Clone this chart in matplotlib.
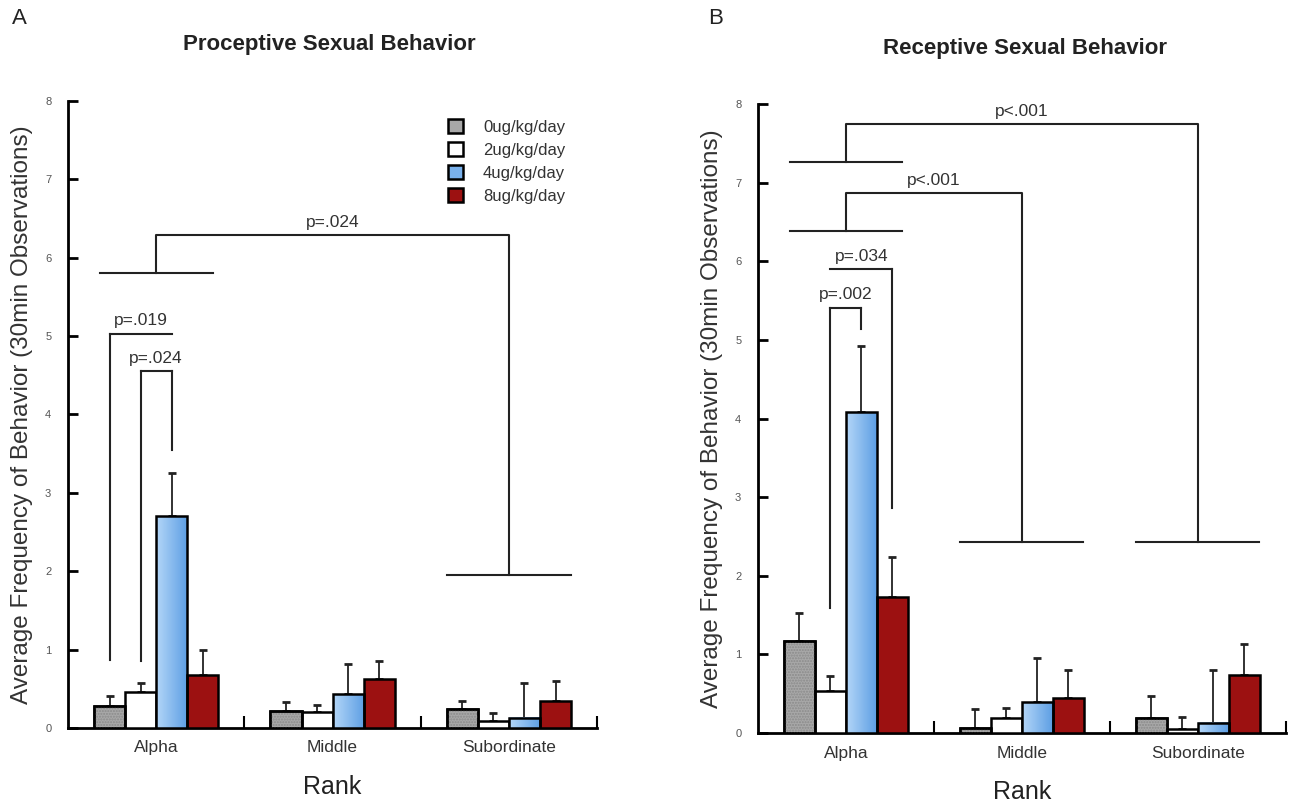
"""Proceptive / receptive sexual behavior by rank and dose, two-panel bar chart."""

import matplotlib

matplotlib.use("Agg")
import matplotlib.pyplot as plt
import numpy as np
from matplotlib.colors import LinearSegmentedColormap
from matplotlib.patches import Patch

plt.rcParams["font.family"] = ["Liberation Sans", "DejaVu Sans"]

ranks = ["Alpha", "Middle", "Subordinate"]
doses = ["0ug/kg/day", "2ug/kg/day", "4ug/kg/day", "8ug/kg/day"]

# panel A: proceptive, mean per rank (Alpha, Middle, Subordinate) and SEM
pro_0 = [0.28, 0.22, 0.24]
pro_2 = [0.455, 0.20, 0.09]
pro_4 = [2.70, 0.43, 0.13]
pro_8 = [0.67, 0.63, 0.35]
pro_0_sem = [0.13, 0.11, 0.11]
pro_2_sem = [0.115, 0.09, 0.10]
pro_4_sem = [0.55, 0.38, 0.44]
pro_8_sem = [0.33, 0.23, 0.25]

# panel B: receptive
rec_0 = [1.165, 0.064, 0.19]
rec_2 = [0.54, 0.19, 0.055]
rec_4 = [4.08, 0.39, 0.13]
rec_8 = [1.73, 0.45, 0.74]
rec_0_sem = [0.365, 0.246, 0.28]
rec_2_sem = [0.18, 0.13, 0.145]
rec_4_sem = [0.85, 0.57, 0.67]
rec_8_sem = [0.51, 0.35, 0.39]

# dose comparisons within Alpha: label, dose a, dose b, bracket top, leg end a, leg end b
pro_dose_tests = [("p=.019", 0, 2, 5.03, 0.87, None), ("p=.024", 1, 2, 4.55, 0.85, 3.55)]
rec_dose_tests = [("p=.002", 1, 2, 5.41, 1.59, 5.14), ("p=.034", 1, 3, 5.90, None, 2.86)]

# rank comparisons: label, rank a, rank b, T level a, bracket top, T level b
pro_rank_tests = [("p=.024", 0, 2, 5.80, 6.29, 1.95)]
rec_rank_tests = [("p<.001", 0, 1, 6.39, 6.87, 2.43), ("p<.001", 0, 2, 7.26, 7.75, 2.43)]

BAR_W = 0.176
FILL = ["#a8a8a8", "#ffffff", None, "#9c1111"]
BLUE = LinearSegmentedColormap.from_list("bar_blue", ["#b3d6f8", "#5e9fe4"])
LINE = "#222222"


def _bar_x(rank, dose):
    return rank + (dose - 1.5) * BAR_W


def _draw_bars(ax, means, sems):
    x = np.arange(len(ranks))
    for d, (vals, errs) in enumerate(zip(means, sems)):
        pos = x + (d - 1.5) * BAR_W
        ax.errorbar(pos, vals, yerr=[np.zeros(len(vals)), errs], fmt="none",
                    ecolor=LINE, elinewidth=1.3, capsize=3, capthick=2, zorder=2)
        if FILL[d] is None:
            grad = np.linspace(0, 1, 32).reshape(1, -1)
            for px, v in zip(pos, vals):
                ax.imshow(grad, cmap=BLUE, aspect="auto", zorder=3,
                          extent=[px - BAR_W / 2, px + BAR_W / 2, 0, v])
            ax.bar(pos, vals, BAR_W, color="none", edgecolor="black", linewidth=1.8, zorder=4)
        else:
            ax.bar(pos, vals, BAR_W, color=FILL[d], edgecolor="black", linewidth=1.8, zorder=3)
            if d == 0:
                ax.bar(pos, vals, BAR_W, color="none", edgecolor="#8a8a8a",
                       hatch="......", linewidth=0, zorder=3)
                ax.bar(pos, vals, BAR_W, color="none", edgecolor="black", linewidth=1.8, zorder=4)


def _dose_brackets(ax, tests):
    for label, a, b, top, end_a, end_b in tests:
        xa, xb = _bar_x(0, a), _bar_x(0, b)
        ax.plot([xa, xb], [top, top], color=LINE, lw=1.5)
        if end_a is not None:
            ax.plot([xa, xa], [end_a, top], color=LINE, lw=1.5)
        if end_b is not None:
            ax.plot([xb, xb], [end_b, top], color=LINE, lw=1.5)
        ax.text((xa + xb) / 2, top + 0.07, label, ha="center", va="bottom",
                fontsize=12.5, color="#333")


def _rank_brackets(ax, tests, half=0.32):
    for label, a, b, low_a, top, low_b in tests:
        ax.plot([a - half, a + half], [low_a, low_a], color=LINE, lw=1.5)
        ax.plot([b - half - 0.03, b + half + 0.03], [low_b, low_b], color=LINE, lw=1.5)
        ax.plot([a, a, b, b], [low_a, top, top, low_b], color=LINE, lw=1.5)
        ax.text((a + b) / 2, top + 0.06, label, ha="center", va="bottom",
                fontsize=12.5, color="#333")


def _style_axis(ax):
    ax.set_xlim(-0.5, 2.5)
    ax.set_ylim(0, 8)
    for side in ("top", "right"):
        ax.spines[side].set_visible(False)
    for side in ("left", "bottom"):
        ax.spines[side].set_linewidth(2)
    ax.set_yticks(range(9))
    ax.tick_params(axis="y", direction="in", length=7, width=2, pad=12,
                   labelsize=8, labelcolor="#555")
    ax.set_xticks(range(len(ranks)), ranks)
    ax.tick_params(axis="x", which="major", length=0, pad=9, labelsize=12.5, labelcolor="#333")
    ax.set_xticks([0.5, 1.5, 2.5], minor=True)
    ax.tick_params(axis="x", which="minor", direction="in", length=9, width=1.5)
    ax.set_xlabel("Rank", fontsize=18, labelpad=14, color="#222")
    ax.set_ylabel("Average Frequency of Behavior (30min Observations)", fontsize=17.5,
                  labelpad=9, color="#333")


fig = plt.figure(figsize=(12.97, 8.02), dpi=100)
ax_a = fig.add_axes([0.0524, 0.0923, 0.408, 0.782])
ax_b = fig.add_axes([0.5844, 0.0860, 0.407, 0.784])

_draw_bars(ax_a, [pro_0, pro_2, pro_4, pro_8], [pro_0_sem, pro_2_sem, pro_4_sem, pro_8_sem])
_dose_brackets(ax_a, pro_dose_tests)
_rank_brackets(ax_a, pro_rank_tests)
_style_axis(ax_a)

_draw_bars(ax_b, [rec_0, rec_2, rec_4, rec_8], [rec_0_sem, rec_2_sem, rec_4_sem, rec_8_sem])
_dose_brackets(ax_b, rec_dose_tests)
_rank_brackets(ax_b, rec_rank_tests)
_style_axis(ax_b)

handles = [
    Patch(facecolor="#a8a8a8", edgecolor="black", linewidth=1.8),
    Patch(facecolor="white", edgecolor="black", linewidth=1.8),
    Patch(facecolor="#79b1ec", edgecolor="black", linewidth=1.8),
    Patch(facecolor=FILL[3], edgecolor="black", linewidth=1.8),
]
ax_a.legend(handles, doses, loc="upper left", bbox_to_anchor=(0.69, 0.995), frameon=False,
            handlelength=0.9, handleheight=0.9, handletextpad=1.2, labelspacing=0.45,
            fontsize=12, labelcolor="#333")

fig.text(0.254, 0.944, "Proceptive Sexual Behavior", ha="center", va="center",
         fontsize=16, fontweight="bold", color="#222")
fig.text(0.790, 0.940, "Receptive Sexual Behavior", ha="center", va="center",
         fontsize=16, fontweight="bold", color="#222")
fig.text(0.015, 0.977, "A", ha="center", va="center", fontsize=16, color="#222")
fig.text(0.552, 0.977, "B", ha="center", va="center", fontsize=16, color="#222")

fig.savefig("out.png", dpi=100)
